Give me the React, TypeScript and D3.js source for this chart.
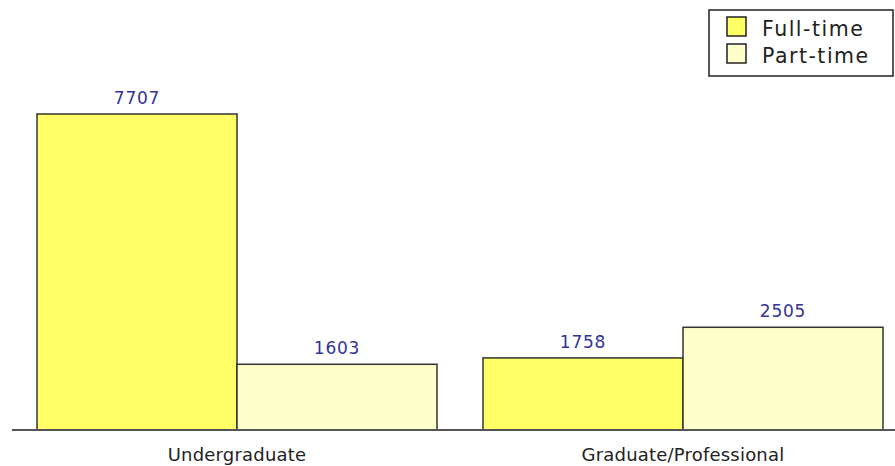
import React from "react";
import * as d3 from "d3";

const categories = ["Undergraduate", "Graduate/Professional"];
const seriesNames = ["Full-time", "Part-time"];
const fullTime = [7707, 1758];
const partTime = [1603, 2505];
const colors = ["#ffff66", "#ffffcc"];

const W = 895;
const H = 466;

export default function App() {
  const x0 = d3
    .scaleBand<string>()
    .domain(categories)
    .range([14, 906])
    .paddingInner(46 / 446)
    .paddingOuter(23 / 446);
  const x1 = d3.scaleBand<string>().domain(seriesNames).range([0, x0.bandwidth()]);
  const y = d3.scaleLinear().domain([0, 7707]).range([430, 114]);
  const values = [fullTime, partTime];
  const font = "DejaVu Sans, sans-serif";

  return (
    <svg
      width={W}
      height={H}
      style={{ position: "absolute", left: 0, top: 0, background: "#fff" }}
      fontFamily={font}
    >
      {categories.map((c, ci) => (
        <g key={c} transform={`translate(${x0(c)},0)`}>
          {seriesNames.map((s, si) => {
            const v = values[si][ci];
            const bx = x1(s)!;
            return (
              <g key={s}>
                <rect
                  x={bx}
                  y={y(v)}
                  width={x1.bandwidth()}
                  height={y(0) - y(v)}
                  fill={colors[si]}
                  stroke="#333"
                  strokeWidth={1.5}
                />
                <text
                  x={bx + x1.bandwidth() / 2}
                  y={y(v) - 10}
                  textAnchor="middle"
                  fontSize={17}
                  letterSpacing={0.8}
                  fill="#333399"
                >
                  {v}
                </text>
              </g>
            );
          })}
          <text
            x={x0.bandwidth() / 2}
            y={461}
            textAnchor="middle"
            fontSize={18}
            letterSpacing={0.2}
            fill="#222"
          >
            {c}
          </text>
        </g>
      ))}
      <line x1={12} x2={895} y1={430} y2={430} stroke="#555" strokeWidth={2} />
      <g>
        <rect x={709} y={10} width={184} height={66} fill="#fff" stroke="#222" strokeWidth={1.5} />
        {seriesNames.map((s, i) => (
          <g key={s} transform={`translate(0,${i * 27})`}>
            <rect x={727} y={17} width={19} height={19} fill={colors[i]} stroke="#222" strokeWidth={1.5} />
            <text x={762} y={36} fontSize={20.5} fill="#222" letterSpacing={1.5}>
              {s}
            </text>
          </g>
        ))}
      </g>
    </svg>
  );
}
